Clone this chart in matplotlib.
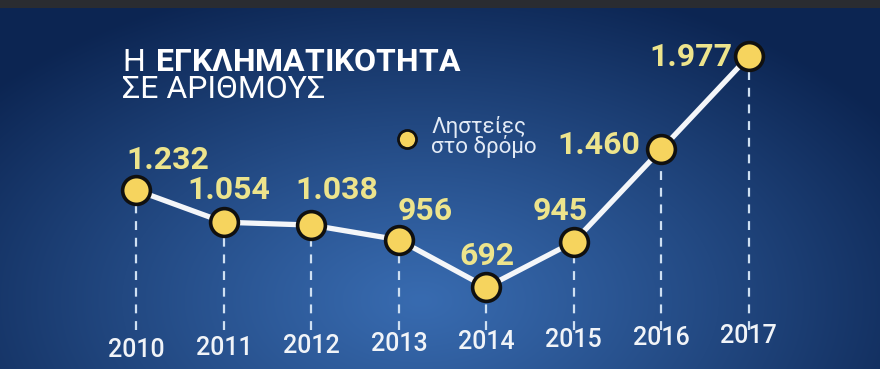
import numpy as np
import matplotlib
matplotlib.use('Agg')
import matplotlib.pyplot as plt

years = [2010, 2011, 2012, 2013, 2014, 2015, 2016, 2017]
robberies = [1232, 1054, 1038, 956, 692, 945, 1460, 1977]
value_labels = ['1.232', '1.054', '1.038', '956', '692', '945', '1.460', '1.977']
year_labels = ['2010', '2011', '2012', '2013', '2014', '2015', '2016', '2017']
title_regular = 'Η'
title_bold = 'ΕΓΚΛΗΜΑΤΙΚΟΤΗΤΑ'
subtitle = 'ΣΕ ΑΡΙΘΜΟΥΣ'
legend_text = 'Ληστείες\nστο δρόμο'

# where each value label sits relative to its point, in pixels (right, up)
label_offsets = [(31, 30), (5, 32), (25, 35), (26, 29), (1, 31), (-14, 31), (-63, 4), (-58, -1)]

plt.rcParams['mathtext.fontset'] = 'custom'
plt.rcParams['mathtext.rm'] = 'Roboto'
plt.rcParams['mathtext.bf'] = 'Roboto:bold'

W, H = 880, 369
PX = 72 / 100  # points per pixel at dpi 100

fig = plt.figure(figsize=(W / 100, H / 100), dpi=100)

# blue studio background, brighter towards the lower middle
yy, xx = np.mgrid[0:H, 0:W]
d = np.sqrt(((xx - 420) / 560) ** 2 + ((yy - 300) / 330) ** 2)
t = np.clip(d, 0, 1) ** 1.1
center = np.array([0x38, 0x6b, 0xb0]) / 255
edge = np.array([0x0c, 0x25, 0x52]) / 255
img = center * (1 - t)[..., None] + edge * t[..., None]
img[:8] = np.array([0x2a, 0x2c, 0x31]) / 255
bg = fig.add_axes([0, 0, 1, 1])
bg.imshow(img, aspect='auto', extent=(0, W, H, 0))
bg.axis('off')

ax = fig.add_axes([0, 0, 1, 1], facecolor='none')
ax.set_xlim(2008.441, 2018.499)
ax.set_ylim(237.5, 2290.1)
ax.axis('off')

DASH_END = 455
ax.vlines(years, DASH_END, robberies, colors='#cfe0f2', linewidth=1.6,
          linestyles=(0, (4, 3.5)), zorder=1)
ax.plot(years, robberies, color='#f4f6f9', linewidth=3.8, zorder=2,
        solid_capstyle='round')
ax.scatter(years, robberies, s=400, color='#f6d45e', edgecolors='#101010',
           linewidths=2.6, zorder=3)

for x, y, lab, (dx, dy) in zip(years, robberies, value_labels, label_offsets):
    ax.annotate(lab, (x, y), xytext=(dx * PX, dy * PX), textcoords='offset points',
                ha='center', va='center', color='#ede48c', fontsize=23,
                fontweight='bold', family=['Roboto', 'DejaVu Sans'])

n = len(years)
for i, (x, lab) in enumerate(zip(years, year_labels)):
    ypx = 350 - 14 * i / (n - 1)
    ax.text(x, 1 - ypx / H, lab, transform=ax.get_xaxis_transform(),
            ha='center', va='center', color='#f1f4f8', fontsize=18,
            fontweight='medium', family=['Roboto', 'DejaVu Sans'])

# title as one two-line text, regular first word then bold
title = title_regular + r'$\ \mathbf{' + title_bold + '}$\n' + subtitle
fig.text(122 / W, 1 - 48 / H, title, color='white', fontsize=23,
         va='top', ha='left', linespacing=0.9, family=['Roboto', 'DejaVu Sans'])

# legend
fig.lines.append(plt.Line2D([407 / W], [1 - 139 / H], transform=fig.transFigure,
                            marker='o', markersize=13, markerfacecolor='#f6d45e',
                            markeredgecolor='#101010', markeredgewidth=2))
fig.text(431 / W, 1 - 137 / H, legend_text, color='#e3ebf6', fontsize=16,
         va='center', ha='left', linespacing=0.85, family=['Roboto', 'DejaVu Sans'])

fig.savefig('out.png', dpi=100)
